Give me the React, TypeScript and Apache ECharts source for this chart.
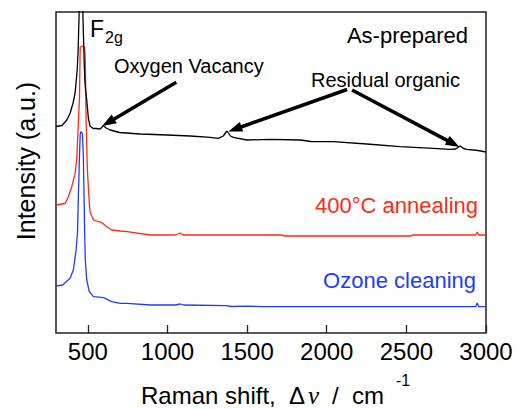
import React, { useEffect, useRef } from 'react';
import * as echarts from 'echarts';

// Raman shift tick labels (cm^-1)
const xTicks = [500, 1000, 1500, 2000, 2500, 3000];

// As-prepared spectrum (Raman shift, intensity a.u.)
const asPreparedX = [300, 338, 368, 389, 407, 420, 433, 439, 447, 455, 462, 467, 472, 477, 482, 488, 493, 503, 514, 533, 552, 577, 590, 596, 615, 640, 700, 828, 1000, 1142, 1268, 1319, 1350, 1373, 1395, 1414, 1498, 1645, 1834, 1900, 2041, 2252, 2461, 2668, 2775, 2810, 2838, 2860, 2880, 2950, 3000];
const asPreparedY = [206.5, 207.5, 213, 220, 230, 240, 263, 283, 330, 380, 450, 330, 300, 270, 250, 240, 233, 215, 207, 204.5, 204.5, 204, 206, 207.5, 205, 203, 200.5, 199, 198, 197, 195.7, 194.7, 197, 202, 197, 195.7, 193, 193.7, 193, 191.5, 191.3, 189, 186.3, 184.7, 183.7, 184, 187, 184.5, 183.7, 182.5, 181];

// 400 °C annealing spectrum
const annealX = [300, 338, 357, 378, 399, 420, 430, 441, 447, 452, 465, 480, 484, 489, 497, 510, 514, 535, 588, 619, 650, 703, 747, 891, 1048, 1079, 1098, 1720, 1730, 2530, 2540, 2935, 2945, 2955, 3000];
const annealY = [128, 129, 129.5, 136.3, 146.3, 159.7, 173, 213, 233, 286, 287, 286, 273, 213, 163, 128, 121, 113, 110.3, 106.3, 103, 102, 101.3, 98, 98, 100, 98, 98, 97, 97, 98, 98, 101, 98, 98];

// Ozone cleaning spectrum
const ozoneX = [300, 342, 388, 409, 426, 435, 441, 447, 452, 458, 466, 471, 476, 480, 484, 493, 509, 535, 598, 650, 703, 747, 891, 1050, 1080, 1100, 1370, 1400, 1500, 1600, 2935, 2945, 2955, 3000];
const ozoneY = [47, 48, 54.7, 63, 83, 100, 140, 175, 199, 201.5, 199, 180, 140, 100, 73, 53, 41.3, 36.3, 35.3, 31.3, 29.7, 29.7, 28, 28, 29, 28, 27.3, 26.5, 26.8, 26.3, 26.3, 30, 26.3, 26.3];

// Annotation arrows (data coords: tail -> tip)
const arrowTails = [[1055, 250.7], [2128, 243.5], [2159, 243]];
const arrowTips = [[590, 207], [1382, 201.5], [2834, 186]];

const FONT = "'Liberation Sans', Arial, Helvetica, sans-serif";
const SERIF = "'Liberation Serif', 'Times New Roman', serif";
const RED = '#ff2a10';
const BLUE = '#1e3cff';

const zip = (xs: number[], ys: number[]) => xs.map((x, i) => [x, ys[i]]);

export default function App() {
  const ref = useRef<HTMLDivElement>(null);
  useEffect(() => {
    if (!ref.current) return;
    const chart = echarts.init(ref.current, null, { renderer: 'svg' });
    chart.setOption({
      animation: false,
      backgroundColor: '#fff',
      grid: {
        left: 56, right: 34, top: 12, bottom: 76,
        show: true, borderColor: '#222', borderWidth: 1.5,
        containLabel: false, outerBoundsMode: 'none',
      },
      xAxis: {
        type: 'value', min: 300, max: 3000,
        axisLine: { show: false },
        splitLine: { show: false },
        axisTick: { show: true, inside: true, length: 8, customValues: xTicks, lineStyle: { color: '#222', width: 1.3 } },
        axisLabel: { customValues: xTicks, fontSize: 24, color: '#000', fontFamily: FONT, margin: 6, formatter: (v: number) => String(v) },
      },
      yAxis: {
        type: 'value', min: 0, max: 321,
        axisLine: { show: false }, axisTick: { show: false },
        axisLabel: { show: false }, splitLine: { show: false },
      },
      series: [
        { type: 'line', data: zip(annealX, annealY), symbol: 'none', clip: true, lineStyle: { color: RED, width: 1.3 } },
        { type: 'line', data: zip(ozoneX, ozoneY), symbol: 'none', clip: true, lineStyle: { color: BLUE, width: 1.3 } },
        { type: 'line', data: zip(asPreparedX, asPreparedY), symbol: 'none', clip: true, lineStyle: { color: '#000', width: 1.3 } },
      ],
    });

    const graphics: any[] = [];
    arrowTails.forEach((t, i) => {
      const T = chart.convertToPixel({ gridIndex: 0 }, t) as number[];
      const P = chart.convertToPixel({ gridIndex: 0 }, arrowTips[i]) as number[];
      const dx = P[0] - T[0], dy = P[1] - T[1];
      const len = Math.hypot(dx, dy);
      const ux = dx / len, uy = dy / len;
      const L = 14, W = 5;
      const bx = P[0] - ux * L, by = P[1] - uy * L;
      const nx = -uy, ny = ux;
      graphics.push({
        type: 'line', z: 100,
        shape: { x1: T[0], y1: T[1], x2: bx + ux * 2, y2: by + uy * 2 },
        style: { stroke: '#000', lineWidth: 3.5 },
      });
      graphics.push({
        type: 'polygon', z: 100,
        shape: { points: [[P[0], P[1]], [bx + nx * W, by + ny * W], [bx - nx * W, by - ny * W]] },
        style: { fill: '#000' },
      });
    });

    const txt = (text: string, x: number, y: number, size: number, fill: string, align: string, family = FONT, italic = false) => ({
      type: 'text', x, y, z: 100,
      style: { text, fill, fontSize: size, fontFamily: family, fontStyle: italic ? 'italic' : 'normal', align, textAlign: align, verticalAlign: 'middle', textVerticalAlign: 'middle' },
    });

    graphics.push(txt('As-prepared', 468, 35, 22, '#000', 'right'));
    graphics.push(txt('Oxygen Vacancy', 114, 66, 20, '#000', 'left'));
    graphics.push(txt('Residual organic', 311, 80, 20, '#000', 'left'));
    graphics.push(txt('400°C annealing', 478, 205, 22, RED, 'right'));
    graphics.push(txt('Ozone cleaning', 476, 280, 22, BLUE, 'right'));
    // F2g label
    graphics.push(txt('F', 90, 28.5, 23, '#000', 'left'));
    graphics.push(txt('2g', 105, 37.5, 16, '#000', 'left'));
    // y-axis title
    graphics.push({
      type: 'text', x: 26, y: 161, rotation: Math.PI / 2, z: 100,
      style: { text: 'Intensity (a.u.)', fill: '#000', fontSize: 25, fontFamily: FONT, align: 'center', textAlign: 'center', verticalAlign: 'middle', textVerticalAlign: 'middle' },
    });
    // x-axis title: Raman shift, Δν / cm^-1
    graphics.push(txt('Raman shift,', 141, 395, 24, '#000', 'left'));
    graphics.push(txt('Δ', 289, 395, 24, '#000', 'left'));
    graphics.push(txt('ν', 308, 395, 25, '#000', 'left', SERIF, true));
    graphics.push(txt('/', 332, 395, 24, '#000', 'left'));
    graphics.push(txt('cm', 352, 395, 24, '#000', 'left'));
    graphics.push(txt('-1', 396, 380, 16, '#000', 'left'));

    chart.setOption({ graphic: graphics });
    return () => chart.dispose();
  }, []);
  return <div ref={ref} style={{ position: 'fixed', left: 0, top: 0, width: 520, height: 409 }} />;
}
